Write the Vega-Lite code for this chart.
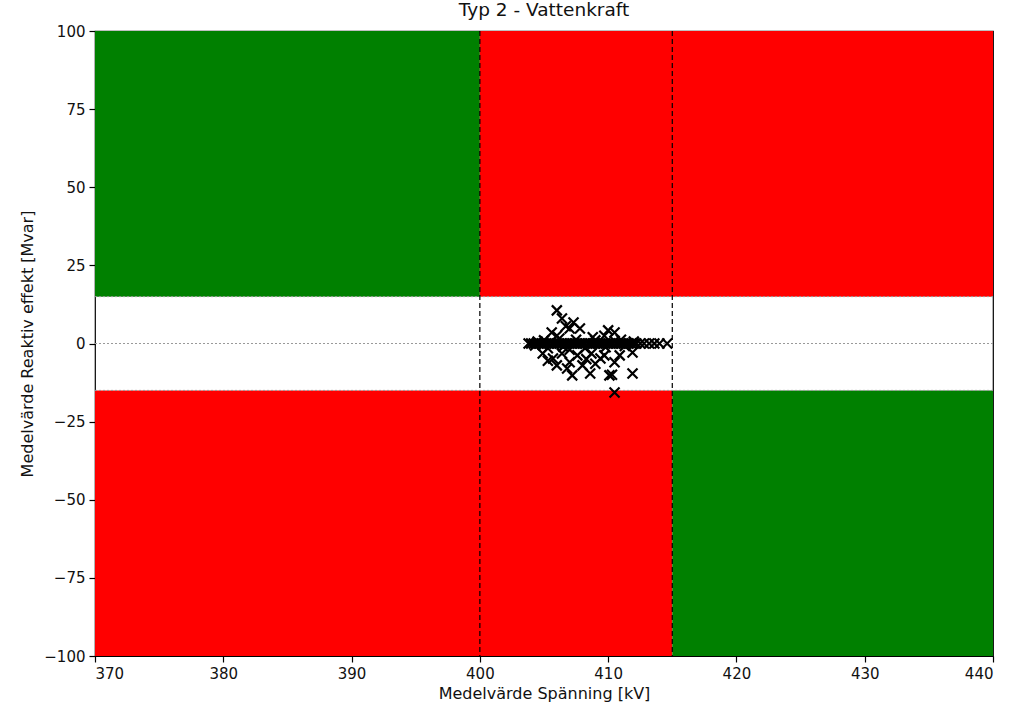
{
  "$schema": "https://vega.github.io/schema/vega-lite/v6.json",
  "width": 898,
  "height": 625,
  "autosize": "none",
  "padding": {"left": 95, "top": 31, "right": 34, "bottom": 51},
  "background": "white",
  "config": {
    "font": "DejaVu Sans",
    "view": {"stroke": "black", "strokeWidth": 1.2},
    "axis": {
      "grid": false,
      "domain": false,
      "tickColor": "black",
      "tickSize": 6,
      "tickWidth": 1.2,
      "labelColor": "#111111",
      "labelFontSize": 15,
      "labelFont": "DejaVu Sans",
      "titleFont": "DejaVu Sans",
      "titleFontSize": 16,
      "titleFontWeight": "normal",
      "titleColor": "#111111",
      "labelPadding": 4
    }
  },
  "title": {"text": "Typ 2 - Vattenkraft", "fontSize": 18.5, "fontWeight": "normal", "font": "DejaVu Sans", "color": "#111111", "offset": 5},
  "datasets": {
    "zones": [
      {"x1": 370, "x2": 400, "y1": 15, "y2": 100, "zone": "ok"},
      {"x1": 400, "x2": 440, "y1": 15, "y2": 100, "zone": "bad"},
      {"x1": 370, "x2": 415, "y1": -100, "y2": -15, "zone": "bad"},
      {"x1": 415, "x2": 440, "y1": -100, "y2": -15, "zone": "ok"}
    ],
    "vlines": [{"v": 400}, {"v": 415}],
    "hlines": [{"h": 15}, {"h": 0}, {"h": -15}],
    "pts": [
      {"u": 403.8, "q": 0}, {"u": 404.0, "q": 0}, {"u": 404.2, "q": 0}, {"u": 404.4, "q": 0}, {"u": 404.6, "q": 0},
      {"u": 404.8, "q": 0}, {"u": 405.0, "q": 0}, {"u": 405.2, "q": 0}, {"u": 405.4, "q": 0}, {"u": 405.6, "q": 0},
      {"u": 405.8, "q": 0}, {"u": 406.0, "q": 0}, {"u": 406.2, "q": 0}, {"u": 406.4, "q": 0}, {"u": 406.6, "q": 0},
      {"u": 406.8, "q": 0}, {"u": 407.0, "q": 0}, {"u": 407.2, "q": 0}, {"u": 407.4, "q": 0}, {"u": 407.6, "q": 0},
      {"u": 407.8, "q": 0}, {"u": 408.0, "q": 0}, {"u": 408.2, "q": 0}, {"u": 408.4, "q": 0}, {"u": 408.6, "q": 0},
      {"u": 408.8, "q": 0}, {"u": 409.0, "q": 0}, {"u": 409.2, "q": 0}, {"u": 409.4, "q": 0}, {"u": 409.6, "q": 0},
      {"u": 409.8, "q": 0}, {"u": 410.0, "q": 0}, {"u": 410.2, "q": 0}, {"u": 410.4, "q": 0}, {"u": 410.6, "q": 0},
      {"u": 410.8, "q": 0}, {"u": 411.0, "q": 0}, {"u": 411.2, "q": 0}, {"u": 411.4, "q": 0}, {"u": 411.6, "q": 0},
      {"u": 411.8, "q": 0}, {"u": 412.0, "q": 0}, {"u": 412.2, "q": 0}, {"u": 412.5, "q": 0}, {"u": 412.8, "q": 0},
      {"u": 413.2, "q": 0}, {"u": 413.6, "q": 0}, {"u": 414.0, "q": 0}, {"u": 414.6, "q": 0},
      {"u": 405.0, "q": 1.0}, {"u": 406.5, "q": -1.0}, {"u": 407.5, "q": 1.2}, {"u": 408.2, "q": -1.5},
      {"u": 409.0, "q": 1.0}, {"u": 409.8, "q": -1.2}, {"u": 410.5, "q": 0.8}, {"u": 411.3, "q": -0.8},
      {"u": 408.8, "q": 2.0}, {"u": 407.0, "q": -2.0}, {"u": 406.0, "q": 2.5}, {"u": 405.3, "q": -1.5},
      {"u": 404.5, "q": 0.6}, {"u": 412.0, "q": 0.6}, {"u": 411.0, "q": 1.2}, {"u": 404.3, "q": -0.6},
      {"u": 406.0, "q": 10.6}, {"u": 406.4, "q": 8.0}, {"u": 407.3, "q": 6.7}, {"u": 407.0, "q": 4.8},
      {"u": 405.6, "q": 3.5}, {"u": 407.8, "q": 4.8}, {"u": 410.0, "q": 4.2}, {"u": 410.5, "q": 3.5},
      {"u": 406.2, "q": 1.6}, {"u": 406.7, "q": 5.5}, {"u": 409.7, "q": 2.5},
      {"u": 404.9, "q": -3.2}, {"u": 405.7, "q": -4.8}, {"u": 406.0, "q": -7.0}, {"u": 407.0, "q": -6.0},
      {"u": 407.2, "q": -10.2}, {"u": 408.6, "q": -9.6}, {"u": 408.0, "q": -7.0}, {"u": 409.4, "q": -4.8},
      {"u": 410.1, "q": -10.2}, {"u": 410.3, "q": -10.0}, {"u": 410.5, "q": -6.0}, {"u": 411.9, "q": -9.6},
      {"u": 411.9, "q": -2.9}, {"u": 410.5, "q": -15.7}, {"u": 406.4, "q": -3.2}, {"u": 407.6, "q": -3.8},
      {"u": 408.7, "q": -3.2}, {"u": 409.7, "q": -3.8}, {"u": 410.9, "q": -3.8}, {"u": 406.8, "q": -8.0},
      {"u": 408.3, "q": -5.0}, {"u": 409.0, "q": -6.5}, {"u": 405.3, "q": -5.5}
    ]
  },
  "layer": [
    {
      "data": {"name": "zones"},
      "mark": {"type": "rect", "strokeWidth": 0},
      "encoding": {
        "x": {"field": "x1", "type": "quantitative", "scale": {"domain": [370, 440], "nice": false, "zero": false},
              "axis": {"values": [370, 380, 390, 400, 410, 420, 430, 440], "title": "Medelvärde Spänning [kV]", "titlePadding": 4}},
        "x2": {"field": "x2"},
        "y": {"field": "y1", "type": "quantitative", "scale": {"domain": [-100, 100], "nice": false, "zero": false},
              "axis": {"values": [-100, -75, -50, -25, 0, 25, 50, 75, 100], "title": "Medelvärde Reaktiv effekt [Mvar]", "titlePadding": 8}},
        "y2": {"field": "y2"},
        "color": {"field": "zone", "type": "nominal", "scale": {"domain": ["ok", "bad"], "range": ["#008000", "#ff0000"]}, "legend": null}
      }
    },
    {
      "data": {"name": "hlines"},
      "mark": {"type": "rule", "color": "#999999", "strokeWidth": 1, "strokeDash": [2, 2]},
      "encoding": {"y": {"field": "h", "type": "quantitative"}}
    },
    {
      "data": {"name": "vlines"},
      "mark": {"type": "rule", "color": "black", "strokeWidth": 1.2, "strokeDash": [5, 3]},
      "encoding": {"x": {"field": "v", "type": "quantitative"}}
    },
    {
      "data": {"name": "pts"},
      "mark": {"type": "point", "shape": "M-1,-1L1,1M-1,1L1,-1", "filled": false, "stroke": "black", "strokeWidth": 2.2, "size": 100, "opacity": 1},
      "encoding": {
        "x": {"field": "u", "type": "quantitative"},
        "y": {"field": "q", "type": "quantitative"}
      }
    }
  ]
}
